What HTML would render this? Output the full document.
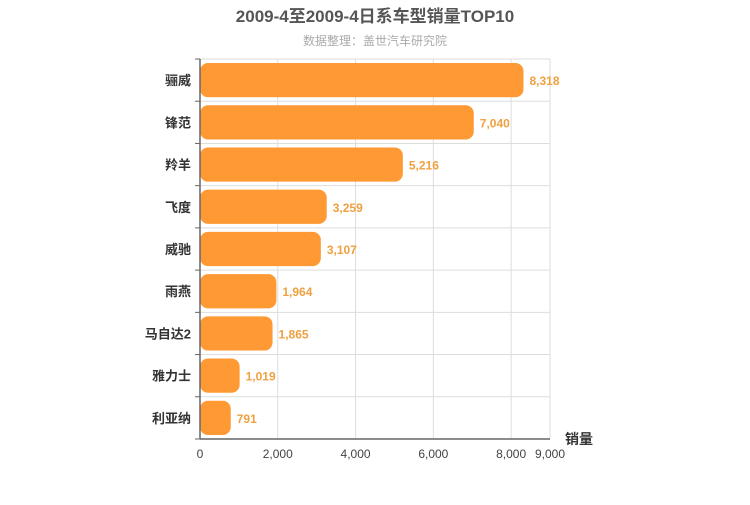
<!DOCTYPE html>
<html><head><meta charset="utf-8"><style>
body{margin:0;background:#fff;}
svg text{font-family:"Liberation Sans","Noto Sans CJK SC",sans-serif;}
</style></head><body>
<svg width="750" height="500">
<text x="375" y="22" text-anchor="middle" font-size="17" font-weight="bold" fill="#555">2009-4至2009-4日系车型销量TOP10</text>
<text x="375" y="45" text-anchor="middle" font-size="12" fill="#aaa">数据整理：盖世汽车研究院</text>
<g id="grid"></g><g id="bars"></g><g id="axes"></g>
<text x="565" y="444" font-size="14" font-weight="bold" fill="#333">销量</text>
</svg>
<script>
const categories=["骊威","锋范","羚羊","飞度","威驰","雨燕","马自达2","雅力士","利亚纳"];
const values=[8318,7040,5216,3259,3107,1964,1865,1019,791];
const ticks=[0,2000,4000,6000,8000,9000];
const NS="http://www.w3.org/2000/svg";
const x0=200,x1=550,maxV=9000,yTop=59,yBot=439;
const band=(yBot-yTop)/categories.length;
const xs=v=>x0+v/maxV*(x1-x0);
function mk(t,a,p){const e=document.createElementNS(NS,t);for(const k in a)e.setAttribute(k,a[k]);p.appendChild(e);return e;}
const grid=document.getElementById('grid'),bars=document.getElementById('bars'),axes=document.getElementById('axes');
ticks.forEach(t=>{
 const l=mk('line',{x1:xs(t),x2:xs(t),y1:yTop,y2:yBot,stroke:'#ddd'},grid);
 
 
 const tx=mk('text',{x:xs(t),y:yBot+19,'text-anchor':'middle','font-size':12,fill:'#444'},axes);
 tx.textContent=t.toLocaleString('en-US');
 
 
});
for(let i=0;i<=categories.length;i++){
 const y=yTop+i*band;
 const l=mk('line',{x1:x0,x2:x1,y1:y,y2:y,stroke:'#ddd'},grid);
 
 
 const tk=mk('line',{x1:x0-5,x2:x0,y1:y,y2:y,stroke:'#666'},axes);
 
 
}
categories.forEach((c,i)=>{
 const yb=yTop+i*band;
 const r=mk('rect',{x:x0,y:yb+4,width:xs(values[i])-x0,height:band-8,rx:8,fill:'#ff9933'},bars);
 
 
 const vt=mk('text',{x:xs(values[i])+6,y:yb+band/2+5,'font-size':12,'font-weight':'bold',fill:'#f0a040'},bars);
 vt.textContent=values[i].toLocaleString('en-US');
 
 
 const ct=mk('text',{x:x0-9,y:yb+band/2+5,'text-anchor':'end','font-size':13,'font-weight':'bold',fill:'#333'},axes);
 ct.textContent=c;
 
 
});
const ya=mk('line',{x1:x0,x2:x0,y1:yTop,y2:yBot,stroke:'#666','stroke-width':1.5},axes);


const xa=mk('line',{x1:x0,x2:x1,y1:yBot,y2:yBot,stroke:'#666','stroke-width':1.5},axes);


</script>
</body></html>
